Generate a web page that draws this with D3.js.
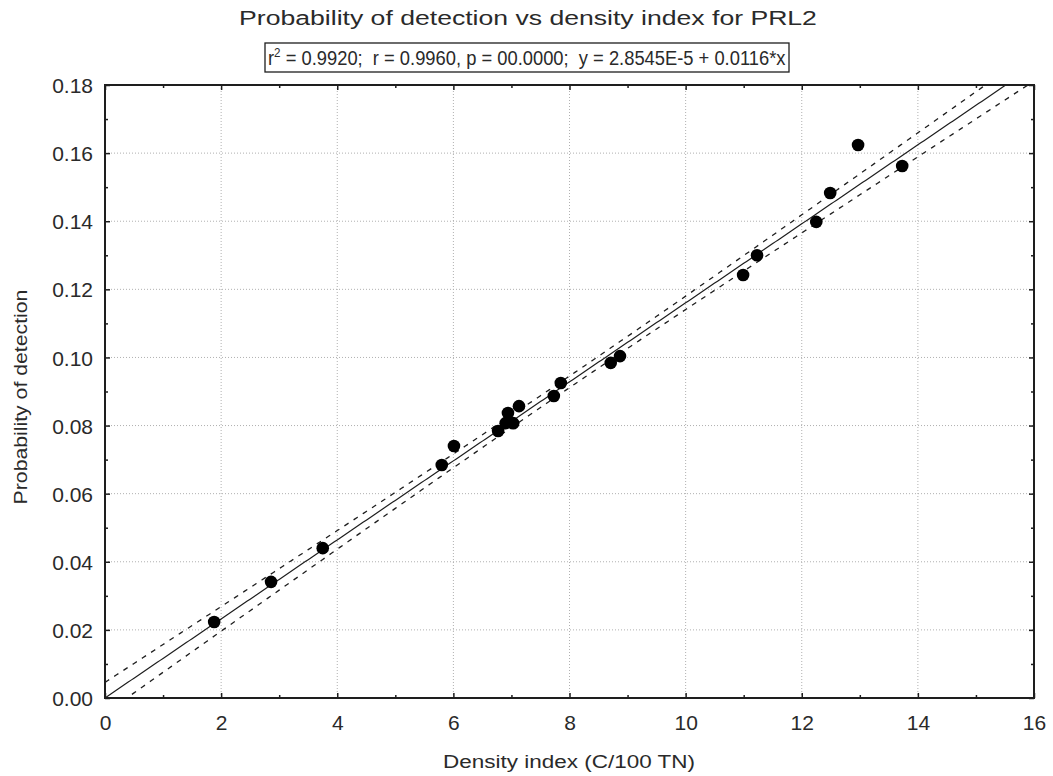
<!DOCTYPE html>
<html><head><meta charset="utf-8">
<script src="https://cdn.jsdelivr.net/npm/d3@7"></script>
<style>body{margin:0;background:#fff}</style>
</head><body>
<svg id="c" width="1053" height="776"></svg>
<script>
const densityIndex = [1.88,2.86,3.75,5.80,6.01,6.77,6.94,6.90,7.03,7.13,7.73,7.85,8.71,8.87,10.99,11.23,12.25,12.49,12.97,13.73];
const probDetection = [0.0223,0.0341,0.0440,0.0684,0.0740,0.0784,0.0837,0.0807,0.0807,0.0857,0.0887,0.0925,0.0984,0.1004,0.1242,0.1300,0.1398,0.1483,0.1624,0.1562];
const xTicks = [0,2,4,6,8,10,12,14,16];
const yTicks = [0,0.02,0.04,0.06,0.08,0.10,0.12,0.14,0.16,0.18];
const intercept = 2.8545e-5, slope = 0.0116;
const tCrit = 2.101;
const titleText = "Probability of detection vs density index for PRL2";
const statsText = " = 0.9920;  r = 0.9960, p = 00.0000;  y = 2.8545E-5 + 0.0116*x";
const xTitle = "Density index (C/100 TN)";
const yTitle = "Probability of detection";

const svg = d3.select("#c");
const L=105, R=1034, T=85, B=698;
const x = d3.scaleLinear().domain([0,16]).range([L,R]);
const y = d3.scaleLinear().domain([0,0.18]).range([B,T]);
const font = "Liberation Sans, Arial, sans-serif";
const ink = "#1e1e1e";

// grid
const g = svg.append("g");
g.selectAll(".gx").data(xTicks.slice(1,-1)).join("line")
 .attr("x1",d=>x(d)).attr("x2",d=>x(d)).attr("y1",T).attr("y2",B)
 .attr("stroke","#b0b0b0").attr("stroke-dasharray","1,2");
g.selectAll(".gy").data(yTicks.slice(1,-1)).join("line")
 .attr("y1",d=>y(d)).attr("y2",d=>y(d)).attr("x1",L).attr("x2",R)
 .attr("stroke","#b0b0b0").attr("stroke-dasharray","1,2");

// axes (inward ticks)
const minorX = d3.range(1,16,2), minorY = d3.range(0.01,0.18,0.02);
function addAxis(a, tx, ty){
  const s = svg.append("g").attr("transform",`translate(${tx},${ty})`).call(a);
  s.select(".domain").remove();
  s.selectAll("line").attr("stroke",ink).attr("stroke-width",1.5);
  s.selectAll("text").attr("font-family",font).attr("font-size",21).attr("fill","#2a2a2a");
  return s;
}
const bx = addAxis(d3.axisBottom(x).tickValues(xTicks).tickSize(-5).tickFormat(d=>d), 0, B);
bx.selectAll("text").attr("y",32).attr("dy",null);
addAxis(d3.axisTop(x).tickValues(xTicks).tickSize(-5).tickFormat(""), 0, T);
const ly = addAxis(d3.axisLeft(y).tickValues(yTicks).tickSize(-5).tickFormat(d3.format(".2f")), L, 0);
ly.selectAll("text").attr("x",-12).attr("dy","0.36em");
addAxis(d3.axisRight(y).tickValues(yTicks).tickSize(-5).tickFormat(""), R, 0);
addAxis(d3.axisBottom(x).tickValues(minorX).tickSize(-3).tickFormat(""), 0, B);
addAxis(d3.axisTop(x).tickValues(minorX).tickSize(-3).tickFormat(""), 0, T);
addAxis(d3.axisLeft(y).tickValues(minorY).tickSize(-3).tickFormat(""), L, 0);
addAxis(d3.axisRight(y).tickValues(minorY).tickSize(-3).tickFormat(""), R, 0);

// regression & confidence bands
const n = densityIndex.length;
const xm = d3.mean(densityIndex);
const Sxx = d3.sum(densityIndex, v=>(v-xm)**2);
const sse = d3.sum(densityIndex, (v,i)=>(probDetection[i]-(intercept+slope*v))**2);
const se = Math.sqrt(sse/(n-2));
const xs = d3.range(0,16.001,0.05);
const hw = v => tCrit*se*Math.sqrt(1/n + (v-xm)**2/Sxx);
svg.append("clipPath").attr("id","clip").append("rect").attr("x",L).attr("y",T).attr("width",R-L).attr("height",B-T);
const pl = svg.append("g").attr("clip-path","url(#clip)");
const line = d3.line().x(d=>x(d[0])).y(d=>y(d[1]));
pl.append("path").attr("d",line(xs.map(v=>[v,intercept+slope*v]))).attr("fill","none").attr("stroke",ink).attr("stroke-width",1.2);
[1,-1].forEach(sg=>{
  pl.append("path").attr("d",line(xs.map(v=>[v,intercept+slope*v+sg*hw(v)]))).attr("fill","none")
   .attr("stroke",ink).attr("stroke-width",1.3).attr("stroke-dasharray","5,6");
});

// points
svg.append("g").selectAll("circle").data(densityIndex).join("circle")
 .attr("cx",d=>x(d)).attr("cy",(d,i)=>y(probDetection[i])).attr("r",6.3).attr("fill","#000");

// frame
svg.append("rect").attr("x",L).attr("y",T).attr("width",R-L).attr("height",B-T)
 .attr("fill","none").attr("stroke",ink).attr("stroke-width",2);

// stretched text helper: centre cx, baseline by, target width w
function stretched(parent, cx, by, w, size, rot){
  const gg = parent.append("g");
  const t = gg.append("text").attr("font-family",font).attr("font-size",size).attr("fill","#2a2a2a").attr("text-anchor","middle");
  return {t, fit(){
    const k = w / t.node().getComputedTextLength();
    gg.attr("transform",`translate(${cx},${by}) rotate(${rot||0}) scale(${k},1)`);
  }};
}
const tt = stretched(svg, 528, 25, 578, 21); tt.t.text(titleText); tt.fit();

const sg2 = svg.append("g");
const st = sg2.append("text").attr("font-family",font).attr("font-size",20.5).attr("fill","#2a2a2a");
st.append("tspan").text("r");
st.append("tspan").attr("font-size",13).attr("dy",-8).text("2");
st.append("tspan").attr("dy",8).style("white-space","pre").attr("xml:space","preserve").text(statsText);
const sw = st.node().getComputedTextLength();
sg2.attr("transform",`translate(268,65) scale(${518/sw},1)`);
svg.append("rect").attr("x",265).attr("y",43).attr("width",524).attr("height",29)
 .attr("fill","none").attr("stroke",ink).attr("stroke-width",1.3);

const xt = stretched(svg, 569, 768, 252, 18.5); xt.t.text(xTitle); xt.fit();
const yt = svg.append("g").attr("transform","translate(27,397) rotate(-90)");
const ytt = stretched(yt, 0, 0, 215, 18.5); ytt.t.text(yTitle); ytt.fit();
</script>
</body></html>
